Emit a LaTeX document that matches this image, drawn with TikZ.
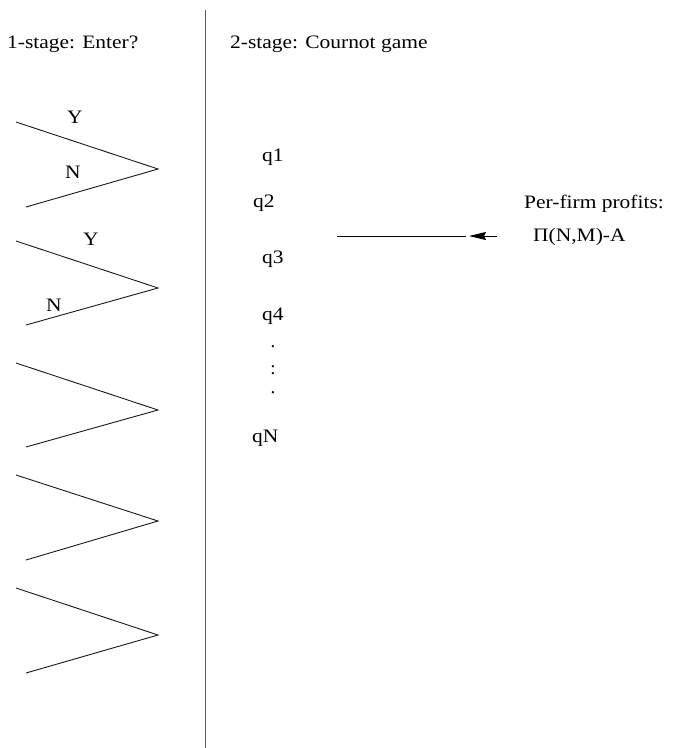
\documentclass[tikz,border=0pt]{standalone}
\usepackage{fontspec}
\setmainfont{Liberation Serif}
\usetikzlibrary{arrows.meta}
\tikzset{
  lbl/.style={inner sep=0pt, anchor=base west, font=\fontsize{19}{22}\selectfont},
  dotlbl/.style={inner sep=0pt, anchor=center, font=\fontsize{19}{22}\selectfont},
  wedge/.style={line width=0.9pt, black!90},
  divider/.style={line width=1pt, black!65},
}
\newcommand{\wx}[1]{\scalebox{1.13}[1]{#1}}
\begin{document}
\begin{tikzpicture}[x=1pt,y=-1pt]
\useasboundingbox (0,0) rectangle (673,748);
% divider
\coordinate (dtop) at (205,10);
\coordinate (dbot) at (205,748);
\draw[divider] (dtop) -- (dbot);
% headings
\node[lbl] (h1) at (7,48) {\wx{1-stage: Enter?}};
\node[lbl] (h2) at (230,48) {\wx{2-stage: Cournot game}};
% wedges
\foreach \i/\t/\a/\b in {1/122/169/207, 2/241/288/325, 3/363/410/447, 4/475/521/560, 5/588/635/673}{
  \coordinate (t\i) at (16,\t);
  \coordinate (a\i) at (158,\a);
  \coordinate (b\i) at (26,\b);
  \draw[wedge] (t\i) -- (a\i) -- (b\i);
}
% Y / N labels
\node[lbl] (y1) at (67,123) {\wx{Y}};
\node[lbl] (n1) at (65,178) {\wx{N}};
\node[lbl] (y2) at (83,245) {\wx{Y}};
\node[lbl] (n2) at (46,311) {\wx{N}};
% quantities
\node[lbl] (q1) at (262,161) {\wx{q1}};
\node[lbl] (q2) at (253,207) {\wx{q2}};
\node[lbl] (q3) at (262,263) {\wx{q3}};
\node[lbl] (q4) at (262,320) {\wx{q4}};
\node[dotlbl] (d1) at (273,347) {.};
\node[dotlbl] (d2) at (273,370) {:};
\node[dotlbl] (d3) at (273,393) {.};
\node[lbl] (qN) at (252,442) {\wx{qN}};
% profits
\node[lbl] (pf) at (524,208) {\wx{Per-firm profits:}};
\node[lbl] (pi) at (533,241) {\wx{Π(N,M)-A}};
% arrow
\coordinate (l1) at (337,236);
\coordinate (l2) at (466,236);
\coordinate (atip) at (469,236);
\coordinate (atail) at (497,236);
\draw[line width=0.9pt] (l1) -- (l2);
\draw[line width=0.9pt, -{Stealth[length=17pt, width=8pt, inset=2pt]}] (atail) -- (atip);
\end{tikzpicture}
\end{document}
